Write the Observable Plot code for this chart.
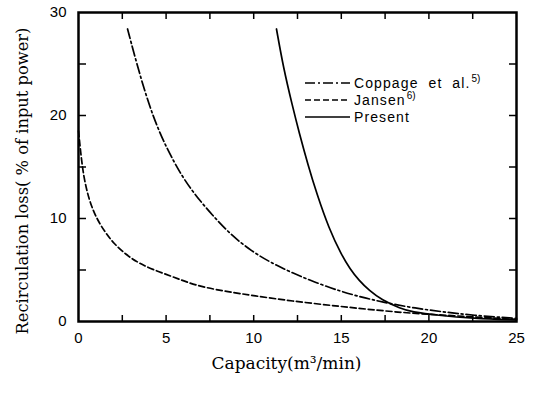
<!DOCTYPE html>
<html>
<head>
<meta charset="utf-8">
<script src="https://cdn.jsdelivr.net/npm/d3@7"></script>
<script src="https://cdn.jsdelivr.net/npm/@observablehq/plot@0.6"></script>
<style>
  html, body { margin: 0; padding: 0; background: #fff; }
  #wrap { position: relative; width: 538px; height: 397px; }
  #legend { position: absolute; left: 0; top: 0; pointer-events: none; }
</style>
</head>
<body>
<div id="wrap"></div>
<script>
// ---- data ----
const coppageX = [2.8, 3.5, 4.3, 5.1, 5.9, 6.7, 7.6, 8.7, 9.9, 11.0, 12.1, 13.5, 15.0, 16.2, 17.3, 19.0, 20.7, 22.5, 25.0];
const coppageY = [28.4, 23.9, 19.6, 16.6, 14.1, 12.2, 10.4, 8.4, 6.8, 5.7, 4.8, 3.8, 2.9, 2.35, 1.9, 1.35, 0.95, 0.6, 0.3];

const jansenX = [0, 0.15, 0.3, 0.6, 1.0, 1.5, 2.0, 2.7, 3.4, 4.3, 5.3, 6.2, 7.2, 8.5, 10.0, 12.1, 15.0, 17.0, 19.0, 21.0, 23.0, 25.0];
const jansenY = [18.5, 16.0, 14.0, 11.8, 10.1, 8.7, 7.6, 6.5, 5.7, 5.0, 4.4, 3.8, 3.3, 2.9, 2.5, 2.0, 1.45, 1.1, 0.8, 0.6, 0.4, 0.2];

const presentX = [11.3, 11.7, 12.2, 12.6, 13.1, 13.6, 14.3, 15.0, 15.5, 16.0, 16.6, 17.3, 18.4, 19.0, 20.5, 22.5, 25.0];
const presentY = [28.4, 24.6, 21.0, 18.3, 15.2, 12.4, 9.0, 6.5, 5.1, 4.0, 3.0, 2.1, 1.25, 0.95, 0.6, 0.3, 0.15];

const seriesNames = ["Coppage  et  al.", "Jansen", "Present"];
const seriesRefs = ["5)", "6)", ""];
const seriesDash = ["10,3,2,3", "6,3", null];

const xTickLabels = [0, 5, 10, 15, 20, 25];
const xTicks = [2.5, 5, 7.5, 10, 12.5, 15, 17.5, 20, 22.5];
const yTickLabels = [0, 10, 20, 30];
const yTicks = [5, 10, 15, 20, 25];

const xTitle = "Capacity(m³/min)";
const yTitle = "Recirculation loss( % of input power)";

// ---- build table ----
function rows(xs, ys, name) { return xs.map((x, i) => ({x, y: ys[i], name})); }
const series = [
  rows(coppageX, coppageY, seriesNames[0]),
  rows(jansenX, jansenY, seriesNames[1]),
  rows(presentX, presentY, seriesNames[2])
];

const W = 538, H = 397, mt = 12, mb = 76, ml = 78, mr = 22;

const noText = () => "";
const tickColor = "black";
const chart = Plot.plot({
  width: W, height: H,
  marginTop: mt, marginBottom: mb, marginLeft: ml, marginRight: mr,
  style: {fontFamily: "Liberation Sans, Arial, sans-serif", fontSize: "15px", background: "white", color: "black"},
  x: {domain: [0, 25]},
  y: {domain: [0, 30]},
  marks: [
    Plot.axisX(xTickLabels, {anchor: "bottom", tickSize: 0, tickPadding: 11, label: null, fontSize: 15}),
    Plot.axisY(yTickLabels, {anchor: "left", tickSize: 0, tickPadding: 12, label: null, fontSize: 15}),
    // inward ticks on all four sides
    Plot.axisX(xTicks, {anchor: "bottom", tickSize: -6, tickFormat: noText, label: null, stroke: tickColor, strokeWidth: 1.5}),
    Plot.axisX(xTicks, {anchor: "top", tickSize: -6, tickFormat: noText, label: null, stroke: tickColor, strokeWidth: 1.5}),
    Plot.axisY(yTicks, {anchor: "left", tickSize: -8, tickFormat: noText, label: null, stroke: tickColor, strokeWidth: 1.5}),
    Plot.axisY(yTicks, {anchor: "right", tickSize: -8, tickFormat: noText, label: null, stroke: tickColor, strokeWidth: 1.5}),
    ...series.map((s, i) => Plot.line(s, {
      x: "x", y: "y", stroke: "black", strokeWidth: 1.7,
      strokeDasharray: seriesDash[i] || undefined, curve: "basis"
    })),
    Plot.frame({stroke: "black", strokeWidth: 2.5}),
    Plot.text([xTitle], {text: d => d, frameAnchor: "bottom", textAnchor: "middle", dx: -11, dy: 47,
      fontFamily: "DejaVu Serif", fontSize: 17}),
    Plot.text([yTitle], {text: d => d, frameAnchor: "left", textAnchor: "middle", rotate: -90, dx: -56, dy: 14,
      fontFamily: "DejaVu Serif", fontSize: 16.3})
  ]
});

const wrap = document.getElementById("wrap");
wrap.appendChild(chart);

// ---- legend overlay ----
const leg = d3.select(wrap).append("svg").attr("id", "legend")
  .attr("width", W).attr("height", H);
seriesNames.forEach((name, i) => {
  const y = 83 + i * 17;
  leg.append("line").attr("x1", 305).attr("x2", 350).attr("y1", y).attr("y2", y)
    .attr("stroke", "black").attr("stroke-width", 1.7)
    .attr("stroke-dasharray", seriesDash[i]);
  const t = leg.append("text").attr("x", 354).attr("y", y + 5)
    .attr("font-family", "Liberation Sans, Arial, sans-serif").attr("font-size", 14)
    .attr("letter-spacing", 1.1).attr("xml:space", "preserve");
  t.append("tspan").text(name);
  if (seriesRefs[i]) {
    t.append("tspan").attr("dy", -6).attr("dx", 1).attr("font-size", 10).attr("letter-spacing", 0).text(seriesRefs[i]);
  }
});
</script>
</body>
</html>
